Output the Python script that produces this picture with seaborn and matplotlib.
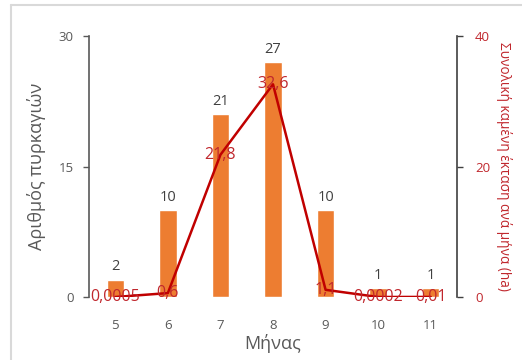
import matplotlib
matplotlib.use("Agg")
import matplotlib.pyplot as plt
import seaborn as sns
import pandas as pd
from matplotlib.lines import Line2D

months = ["5", "6", "7", "8", "9", "10", "11"]
fires = [2, 10, 21, 27, 10, 1, 1]
burned_area = [0.0005, 0.6, 21.8, 32.6, 1.1, 0.0002, 0.01]
area_labels = ["0,0005", "0,6", "21,8", "32,6", "1,1", "0,0002", "0,01"]

sns.set_theme(style="white")
plt.rcParams["font.family"] = ["Open Sans", "DejaVu Sans"]

GRAY = "#595959"
ORANGE = "#ED7D31"
DARKRED = "#C00000"
RED = "#C0272D"

df = pd.DataFrame({"month": months, "fires": fires, "area": burned_area})

fig = plt.figure(figsize=(5.22, 3.6), dpi=100)
ax = fig.add_axes([0.1705, 0.175, 0.705, 0.725])

sns.barplot(data=df, x="month", y="fires", color=ORANGE, width=0.33,
            saturation=1, ax=ax)
ax.set_ylim(0, 30)
ax.set_xlim(-0.5, 6.5)
ax.set_yticks([0, 15, 30])
for b, v in zip(ax.patches, fires):
    ax.text(b.get_x() + b.get_width() / 2, v + 0.6, str(v), ha="center",
            va="bottom", fontsize=10.5, color="#404040")

ax2 = ax.twinx()
sns.lineplot(data=df, x="month", y="area", color=DARKRED, linewidth=1.8,
             ax=ax2, sort=False)
ax2.set_ylim(0, 40)
ax2.set_yticks([0, 20, 40])
ax2.set_xlim(-0.5, 6.5)
for i, (v, t) in enumerate(zip(burned_area, area_labels)):
    ax2.text(i, v, t, ha="center", va="center", fontsize=11.5, color=RED)

for a in (ax, ax2):
    for s in ("top", "bottom"):
        a.spines[s].set_visible(False)
ax.spines["right"].set_visible(False)
ax2.spines["left"].set_visible(False)
ax.spines["left"].set_color(GRAY)
ax2.spines["right"].set_color("#404040")
ax.spines["left"].set_linewidth(1.2)
ax2.spines["right"].set_linewidth(1.2)

ax.tick_params(axis="y", left=True, length=4, width=1.0, color=GRAY,
               labelsize=9.5, labelcolor=GRAY, pad=7)
ax.tick_params(axis="x", bottom=False, labelsize=9.5, labelcolor=GRAY, pad=10)
ax2.tick_params(axis="y", right=True, length=4, width=1.0, color="#404040",
                labelsize=9.5, labelcolor=RED, pad=9)

ax.set_xlabel("Μήνας", fontsize=13, color=GRAY, labelpad=1)
ax.set_ylabel("Αριθμός πυρκαγιών", fontsize=13, color=GRAY, labelpad=9)
ax2.set_ylabel("Συνολική καμένη έκταση ανά μήνα (ha)", fontsize=9.8,
               color=RED, rotation=270, labelpad=16)
ax2.set_xlabel("")

# light frame around the chart area
fig.add_artist(Line2D([11 / 522, 11 / 522], [0, 1 - 5 / 360],
                      transform=fig.transFigure, color="#D9D9D9", lw=1.5))
fig.add_artist(Line2D([11 / 522, 1], [1 - 5 / 360, 1 - 5 / 360],
                      transform=fig.transFigure, color="#D9D9D9", lw=1.5))

fig.savefig("out.png", dpi=100)
